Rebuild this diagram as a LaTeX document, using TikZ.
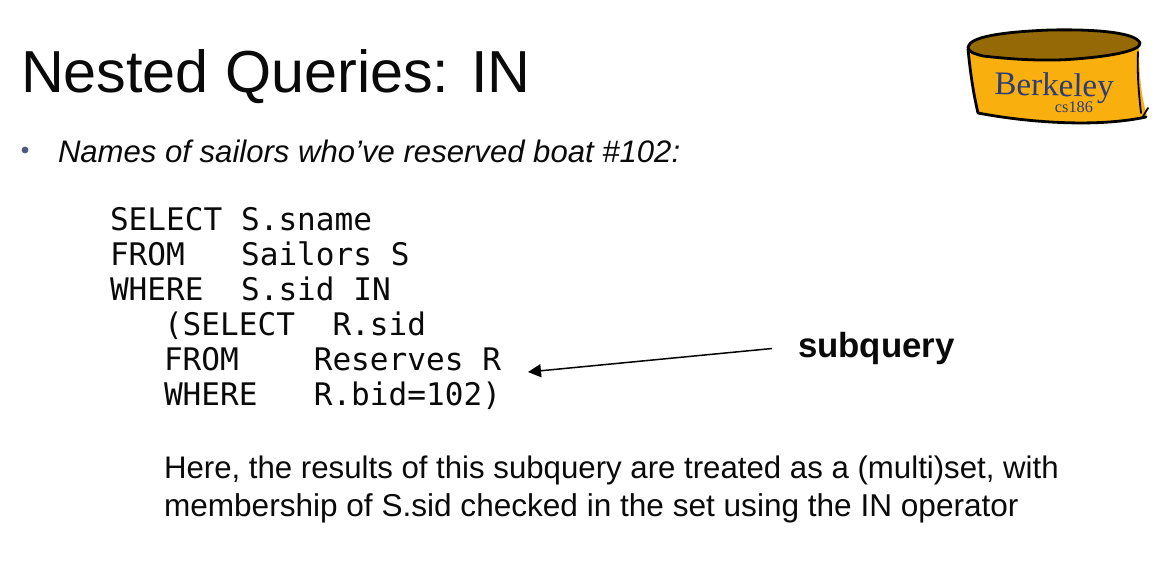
\documentclass[tikz,border=0pt]{standalone}
\usepackage{fontspec}
\usetikzlibrary{arrows.meta}
\setmainfont{Liberation Sans}
\newfontfamily\codefont{DejaVu Sans Mono}
\newfontfamily\logofont{Liberation Serif}
\definecolor{logogold}{HTML}{F9B00F}
\definecolor{logodark}{HTML}{956A06}
\definecolor{logoblue}{HTML}{2C3C78}
\definecolor{bulletblue}{HTML}{4A5A80}
\definecolor{inktext}{HTML}{0A0A0A}
\tikzset{
  txt/.style={anchor=base west,inner sep=0pt,outer sep=0pt,text=inktext},
  titletxt/.style={txt,font=\fontsize{59.3}{60}\selectfont},
  bodytxt/.style={txt,font=\fontsize{31.2}{32}\selectfont},
  codetxt/.style={txt,font=\fontsize{31.1}{32}\selectfont\codefont},
  logoline/.style={line width=2.8pt,line join=round,line cap=round,draw=black}
}
\begin{document}
\begin{tikzpicture}[x=1pt,y=-1pt]
\useasboundingbox (0,0) rectangle (1170,573);
\fill[white] (0,0) rectangle (1170,573);
% logo
\path[fill=logogold] (968,48) .. controls (970,70) and (973,92) .. (978,113)
  .. controls (1025,122) and (1095,128) .. (1147,116)
  .. controls (1141,95) and (1139,75) .. (1139,46)
  .. controls (1100,62) and (1010,62) .. (968,48) -- cycle;
\draw[logoline,fill=logodark] (968,47) .. controls (970,37) and (1000,32) .. (1050,30)
  .. controls (1100,29) and (1136,33) .. (1140,43)
  .. controls (1141,50) and (1115,56) .. (1075,59)
  .. controls (1040,62) and (1000,58) .. (983,56)
  .. controls (975,54) and (968,52) .. (968,47) -- cycle;
\draw[logoline] (968,49) .. controls (970,70) and (973,92) .. (978,113)
  .. controls (1025,122) and (1095,128) .. (1146,117);
\draw[logoline,line width=1.8pt] (1138,52) .. controls (1137,75) and (1139,95) .. (1141,113) (1142,118) -- (1148,108);
\node[anchor=base,inner sep=0pt,text=logoblue,font=\fontsize{33}{33}\selectfont\logofont,rotate=-1] (logoname) at (1054,96) {\smash{Berkeley}};
\node[anchor=base,inner sep=0pt,text=logoblue,font=\fontsize{16.3}{17}\selectfont\logofont] (logocourse) at (1074,112) {\smash{cs186}};
% title
\node[titletxt] (title) at (21,92) {Nested Queries: IN};
% bullet
\fill[bulletblue] (25,150) circle (3.4pt);
\node[bodytxt,font=\fontsize{31.1}{32}\selectfont\itshape] (lead) at (58,162) {Names of sailors who’ve reserved boat \#102:};
% code
\node[codetxt] (c1) at (110,230) {SELECT S.sname};
\node[codetxt] (c2) at (110,265) {FROM~~~Sailors S};
\node[codetxt] (c3) at (110,300) {WHERE~~S.sid IN};
\node[codetxt] (c4) at (164,335) {(SELECT~~R.sid};
\node[codetxt] (c5) at (164,370) {FROM~~~~Reserves R};
\node[codetxt] (c6) at (164,405) {WHERE~~~R.bid=102)};
% arrow
\node[txt,font=\fontsize{34.8}{35}\selectfont\bfseries] (sub) at (798,357) {subquery};
\coordinate (arrowstart) at (772,348.5);
\coordinate (arrowend) at (528,372);
\draw[line width=1.5pt,-{Triangle[length=13pt,width=13pt]}] (arrowstart) -- (arrowend);
% note
\node[bodytxt] (n1) at (164,478) {Here, the results of this subquery are treated as a (multi)set, with};
\node[bodytxt,font=\fontsize{31.57}{32}\selectfont] (n2) at (164,516) {membership of S.sid checked in the set using the IN operator};
\end{tikzpicture}
\end{document}
